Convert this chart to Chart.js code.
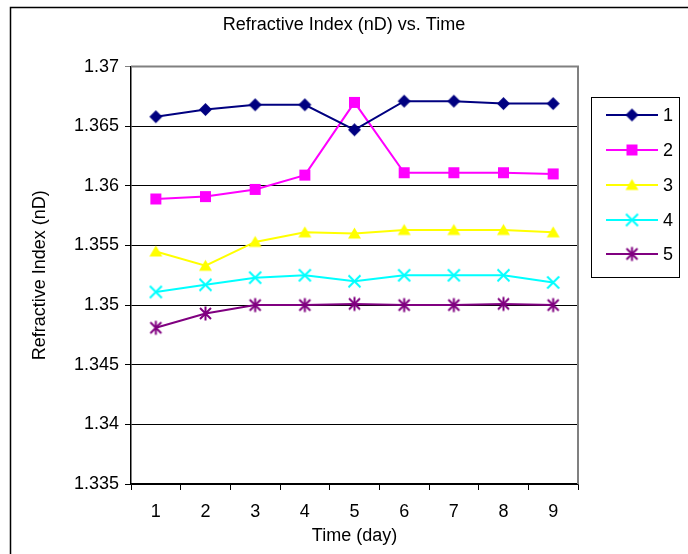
<!DOCTYPE html>
<html>
<head>
<meta charset="utf-8">
<script src="https://cdn.jsdelivr.net/npm/chart.js@4/dist/chart.umd.min.js"></script>
<style>
  html, body { margin: 0; padding: 0; background: #fff; }
  #wrap { width: 688px; height: 554px; position: relative; }
</style>
</head>
<body>
<div id="wrap"><canvas id="c" width="688" height="554"></canvas></div>
<script>
// ---- Data ----
const days = ['1', '2', '3', '4', '5', '6', '7', '8', '9'];
const yTicks = [1.335, 1.34, 1.345, 1.35, 1.355, 1.36, 1.365, 1.37];
const seriesNames = ['1', '2', '3', '4', '5'];
const s1 = [1.3658, 1.3664, 1.3668, 1.3668, 1.3647, 1.3671, 1.3671, 1.3669, 1.3669];
const s2 = [1.3589, 1.3591, 1.3597, 1.3609, 1.3670, 1.3611, 1.3611, 1.3611, 1.3610];
const s3 = [1.3545, 1.3533, 1.3553, 1.3561, 1.3560, 1.3563, 1.3563, 1.3563, 1.3561];
const s4 = [1.3511, 1.3517, 1.3523, 1.3525, 1.3520, 1.3525, 1.3525, 1.3525, 1.3519];
const s5 = [1.3481, 1.3493, 1.3500, 1.3500, 1.3501, 1.3500, 1.3500, 1.3501, 1.3500];

const colors = ['#000080', '#FF00FF', '#FFFF00', '#00FFFF', '#800080'];
const markerTypes = ['diamond', 'square', 'triangle', 'x', 'star'];

function makeMarker(type, color) {
  const s = 17, c = s / 2;
  const cv = document.createElement('canvas');
  cv.width = s; cv.height = s;
  const g = cv.getContext('2d');
  g.fillStyle = color; g.strokeStyle = color; g.lineWidth = 2;
  g.beginPath();
  if (type === 'diamond') {
    g.moveTo(c, c - 6.5); g.lineTo(c + 6.5, c); g.lineTo(c, c + 6.5); g.lineTo(c - 6.5, c); g.closePath(); g.fill();
  } else if (type === 'square') {
    g.rect(c - 5.5, c - 5.5, 11, 11); g.fill();
  } else if (type === 'triangle') {
    g.moveTo(c, c - 6); g.lineTo(c + 6.5, c + 5); g.lineTo(c - 6.5, c + 5); g.closePath(); g.fill();
  } else if (type === 'x') {
    g.moveTo(c - 6, c - 6); g.lineTo(c + 6, c + 6); g.moveTo(c + 6, c - 6); g.lineTo(c - 6, c + 6); g.stroke();
  } else if (type === 'star') {
    g.moveTo(c - 5.5, c - 5.5); g.lineTo(c + 5.5, c + 5.5); g.moveTo(c + 5.5, c - 5.5); g.lineTo(c - 5.5, c + 5.5);
    g.moveTo(c, c - 7); g.lineTo(c, c + 7); g.stroke();
  }
  return cv;
}

const allSeries = [s1, s2, s3, s4, s5];
const datasets = allSeries.map((d, i) => ({
  label: seriesNames[i],
  data: d,
  yAxisID: 'y',
  borderColor: colors[i],
  backgroundColor: colors[i],
  borderWidth: 2,
  pointStyle: makeMarker(markerTypes[i], colors[i]),
  pointRadius: 7,
  tension: 0
}));

const FONT = "'Liberation Sans', Arial, sans-serif";

const framePlugin = {
  id: 'frame',
  beforeDraw(chart) {
    const ctx = chart.ctx;
    ctx.save();
    ctx.fillStyle = '#fff';
    ctx.fillRect(0, 0, chart.width, chart.height);
    ctx.strokeStyle = '#000';
    ctx.lineWidth = 1.5;
    ctx.strokeRect(10.5, 7.5, 800, 700);
    ctx.restore();
  },
  beforeDatasetsDraw(chart) {
    const ctx = chart.ctx, a = chart.chartArea;
    ctx.save();
    ctx.strokeStyle = '#808080';
    ctx.lineWidth = 2;
    ctx.beginPath();
    ctx.moveTo(a.left, a.top); ctx.lineTo(a.right, a.top); ctx.lineTo(a.right, a.bottom);
    ctx.stroke();
    ctx.restore();
  },
  afterDraw(chart) {
    const ctx = chart.ctx;
    ctx.save();
    ctx.strokeStyle = '#000';
    ctx.lineWidth = 1;
    ctx.strokeRect(591.5, 97.5, 88, 180);
    const ys = [115, 150, 185, 220, 254];
    chart.data.datasets.forEach((ds, i) => {
      const y = ys[i];
      ctx.strokeStyle = ds.borderColor;
      ctx.lineWidth = 2;
      ctx.beginPath(); ctx.moveTo(606, y); ctx.lineTo(658, y); ctx.stroke();
      const img = ds.pointStyle;
      ctx.drawImage(img, 632 - img.width / 2, y - img.height / 2);
      ctx.fillStyle = '#000';
      ctx.font = '18px ' + FONT;
      ctx.textBaseline = 'middle';
      ctx.textAlign = 'left';
      ctx.fillText(ds.label, 663, y + 1);
    });
    ctx.restore();
  }
};

new Chart(document.getElementById('c'), {
  type: 'line',
  data: { labels: days, datasets },
  plugins: [framePlugin],
  options: {
    responsive: false,
    animation: false,
    events: [],
    layout: { padding: { left: 0, right: 0, top: 0, bottom: 0 } },
    plugins: {
      legend: { display: false },
      tooltip: { enabled: false },
      title: {
        display: true,
        text: 'Refractive Index (nD) vs. Time',
        color: '#000',
        font: { family: FONT, size: 18, weight: 'normal' },
        padding: { top: 14, bottom: 31 }
      }
    },
    scales: {
      x: {
        type: 'category',
        offset: true,
        grid: { offset: true, drawOnChartArea: false, drawTicks: true, tickLength: 6, color: '#000', lineWidth: 1 },
        border: { color: '#000', width: 1.5 },
        ticks: { color: '#000', font: { family: FONT, size: 18 }, padding: 11, maxRotation: 0 },
        title: { display: true, text: 'Time (day)', color: '#000', font: { family: FONT, size: 18 }, padding: { top: 0, bottom: 7 } },
        afterFit(scale) { scale.height = 70; }
      },
      y: {
        position: 'left',
        min: 1.335,
        max: 1.37,
        afterBuildTicks(scale) { scale.ticks = yTicks.map(v => ({ value: v })); },
        grid: {
          color: (c) => (c.tick && Math.abs(c.tick.value - 1.37) < 1e-9) ? '#808080' : '#000',
          lineWidth: 1,
          drawTicks: true,
          tickLength: 6
        },
        border: { color: '#000', width: 1.5 },
        ticks: {
          color: '#000',
          font: { family: FONT, size: 18 },
          padding: 6,
          callback: (v) => String(Number(Number(v).toFixed(3)))
        },
        title: { display: true, text: 'Refractive Index (nD)', color: '#000', font: { family: FONT, size: 18 }, padding: { top: 29, bottom: 0 } },
        afterFit(scale) { scale.width = 131; }
      },
      yr: {
        position: 'right',
        min: 1.335,
        max: 1.37,
        grid: { display: false, drawOnChartArea: false },
        border: { display: false },
        ticks: { display: false },
        afterFit(scale) { scale.width = 110; }
      }
    }
  }
});
</script>
</body>
</html>
